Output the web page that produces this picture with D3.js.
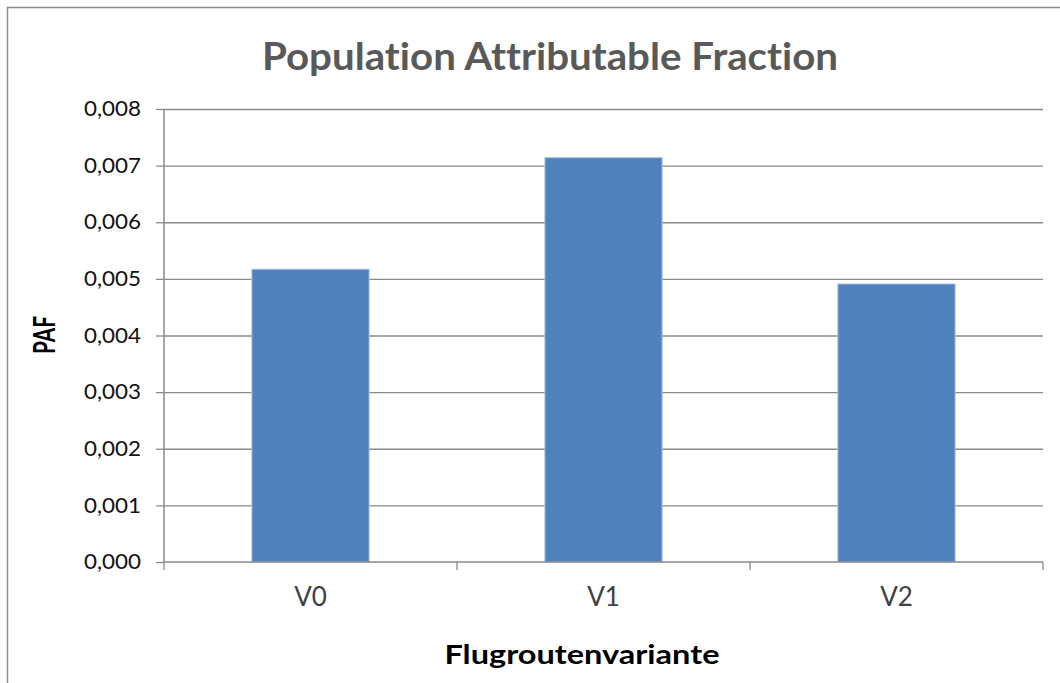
<!DOCTYPE html>
<html>
<head>
<meta charset="utf-8">
<script src="https://cdn.jsdelivr.net/npm/d3@7.9.0/dist/d3.min.js"></script>
<style>
  body { margin: 0; background: #fff; }
  svg { display: block; }
  text { font-variant-ligatures: none; font-feature-settings: "liga" 0; }
</style>
</head>
<body>
<div id="chart"></div>
<script>
// ---------- DATA ----------
const categories = ['V0', 'V1', 'V2'];
const pafValues = [0.00517, 0.00714, 0.00491];
const yTickValues = [0, 0.001, 0.002, 0.003, 0.004, 0.005, 0.006, 0.007, 0.008];
const chartTitle = 'Population Attributable Fraction';
const xTitle = 'Flugroutenvariante';
const yTitle = 'PAF';

// ---------- SETUP ----------
const width = 1060;
const height = 683;
const plot = { left: 164, right: 1043, top: 109, bottom: 562 };
const font = 'Lato, "Open Sans", sans-serif';

const svg = d3.select('#chart')
  .append('svg')
  .attr('width', width)
  .attr('height', height);

// chart area border
svg.append('rect')
  .attr('x', 7.5).attr('y', 7.5)
  .attr('width', width + 20).attr('height', height + 20)
  .attr('fill', '#fff')
  .attr('stroke', '#8c8c8c')
  .attr('stroke-width', 1.5);

const de = d3.formatLocale({ decimal: ',', thousands: '.', grouping: [3], currency: ['', ' €'] });
const fmt = de.format('.3f');

// ---------- SCALES ----------
const x = d3.scaleBand()
  .domain(categories)
  .range([plot.left, plot.right])
  .paddingInner(0.6)
  .paddingOuter(0.3);

const xCat = d3.scaleBand()
  .domain(categories)
  .range([plot.left, plot.right]);

const y = d3.scaleLinear()
  .domain([0, 0.008])
  .range([plot.bottom, plot.top]);

// ---------- GRIDLINES ----------
svg.append('g')
  .attr('class', 'gridlines')
  .attr('transform', `translate(${plot.left},0)`)
  .call(d3.axisLeft(y).tickValues(yTickValues.slice(1)).tickFormat('').tickSize(-(plot.right - plot.left)))
  .call((g) => g.select('.domain').remove())
  .call((g) => g.selectAll('line').attr('stroke', '#8a8a8a').attr('stroke-width', 1.3));

// ---------- BARS ----------
svg.append('g')
  .selectAll('rect')
  .data(categories.map((c, i) => ({ c, v: pafValues[i] })))
  .join('rect')
  .attr('x', (d) => x(d.c))
  .attr('y', (d) => y(d.v))
  .attr('width', x.bandwidth())
  .attr('height', (d) => y(0) - y(d.v))
  .attr('fill', '#4f81bd')
  .attr('stroke', '#a9c1e0')
  .attr('stroke-width', 1);

// ---------- Y AXIS ----------
const yAxisG = svg.append('g')
  .attr('transform', `translate(${plot.left},0)`)
  .call(d3.axisLeft(y).tickValues(yTickValues).tickSize(8).tickPadding(15).tickFormat(fmt));
yAxisG.select('.domain').attr('stroke', '#8a8a8a').attr('stroke-width', 1.5).attr('d', `M0,${plot.top}V${plot.bottom}`);
yAxisG.selectAll('.tick line').attr('stroke', '#8a8a8a').attr('stroke-width', 1.3);
yAxisG.selectAll('.tick text')
  .attr('font-family', font)
  .attr('font-size', 21)
  .attr('fill', '#111')
  .attr('textLength', 57)
  .attr('lengthAdjust', 'spacingAndGlyphs');

// ---------- X AXIS ----------
const xAxisG = svg.append('g')
  .attr('transform', `translate(0,${plot.bottom})`)
  .call(d3.axisBottom(x).tickSize(0).tickPadding(0));
xAxisG.select('.domain').attr('stroke', '#8a8a8a').attr('stroke-width', 1.5).attr('d', `M${plot.left},0H${plot.right}`);
xAxisG.selectAll('.tick text')
  .attr('y', 35)
  .attr('dy', '0.35em')
  .attr('font-family', font)
  .attr('font-size', 26)
  .attr('fill', '#404040');

// category boundary ticks
const boundaries = categories.map((c) => xCat(c)).concat([plot.right]);
xAxisG.selectAll('line.boundary')
  .data(boundaries)
  .join('line')
  .attr('class', 'boundary')
  .attr('x1', (d) => d).attr('x2', (d) => d)
  .attr('y1', 0).attr('y2', 8)
  .attr('stroke', '#8a8a8a')
  .attr('stroke-width', 1.3);

// ---------- TITLES ----------
svg.append('text')
  .attr('x', 550)
  .attr('y', 70)
  .attr('text-anchor', 'middle')
  .attr('font-family', font)
  .attr('font-weight', 'bold')
  .attr('font-size', 38)
  .attr('fill', '#595959')
  .attr('textLength', 576)
  .attr('lengthAdjust', 'spacingAndGlyphs')
  .text(chartTitle);

svg.append('text')
  .attr('x', 582)
  .attr('y', 664)
  .attr('text-anchor', 'middle')
  .attr('font-family', font)
  .attr('font-weight', 'bold')
  .attr('font-size', 27)
  .attr('fill', '#000')
  .attr('textLength', 275)
  .attr('lengthAdjust', 'spacingAndGlyphs')
  .text(xTitle);

svg.append('text')
  .attr('transform', 'translate(55,335) rotate(-90)')
  .attr('text-anchor', 'middle')
  .attr('font-family', font)
  .attr('font-weight', 'bold')
  .attr('font-size', 31)
  .attr('fill', '#000')
  .attr('textLength', 38)
  .attr('lengthAdjust', 'spacingAndGlyphs')
  .text(yTitle);
</script>
</body>
</html>
